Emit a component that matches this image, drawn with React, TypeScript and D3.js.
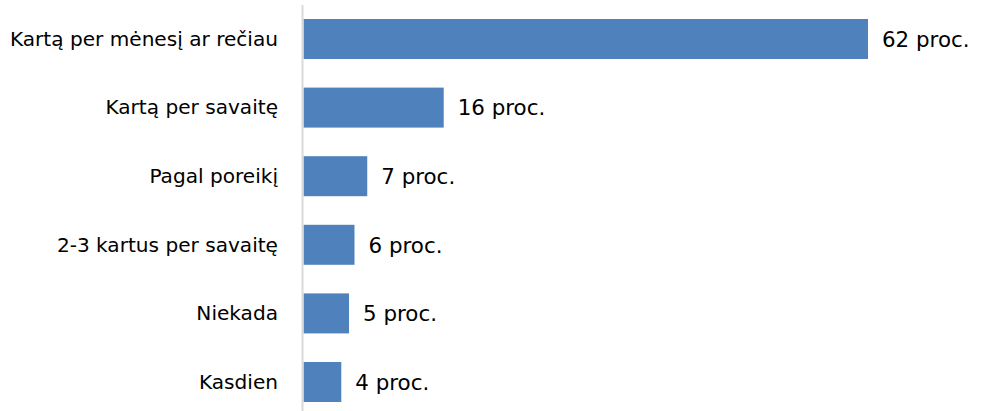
import React, { useEffect, useRef } from "react";
import * as d3 from "d3";

const categories = [
  "Kartą per mėnesį ar rečiau",
  "Kartą per savaitę",
  "Pagal poreikį",
  "2-3 kartus per savaitę",
  "Niekada",
  "Kasdien",
];
const values = [62, 15.4, 7, 5.6, 5, 4.15];
const valueLabels = ["62 proc.", "16 proc.", "7 proc.", "6 proc.", "5 proc.", "4 proc."];

const W = 983;
const H = 411;

export default function App() {
  const ref = useRef<SVGSVGElement | null>(null);
  useEffect(() => {
    const svg = d3.select(ref.current);
    svg.selectAll("*").remove();
    const x = d3.scaleLinear().domain([0, 62]).range([303.5, 868]);
    const y = d3
      .scaleBand<string>()
      .domain(categories)
      .range([4.7, 4.7 + 6 * 68.6])
      .paddingInner(0.417)
      .paddingOuter(0.2085);

    const font = "'DejaVu Sans', sans-serif";

    svg
      .selectAll("rect.bar")
      .data(categories)
      .join("rect")
      .attr("class", "bar")
      .attr("x", x(0))
      .attr("y", (d) => y(d)!)
      .attr("width", (d, i) => x(values[i]) - x(0))
      .attr("height", y.bandwidth())
      .attr("fill", "#4f81bd");

    svg
      .append("line")
      .attr("x1", 302.5)
      .attr("x2", 302.5)
      .attr("y1", 5)
      .attr("y2", H)
      .attr("stroke", "#d9d9d9")
      .attr("stroke-width", 2);

    svg
      .selectAll("text.cat")
      .data(categories)
      .join("text")
      .attr("class", "cat")
      .attr("x", 278)
      .attr("y", (d) => y(d)! + y.bandwidth() / 2)
      .attr("dy", "0.34em")
      .attr("text-anchor", "end")
      .attr("font-family", font)
      .attr("font-size", 20.1)
      .attr("fill", "#000")
      .text((d) => d);

    svg
      .selectAll("text.val")
      .data(categories)
      .join("text")
      .attr("class", "val")
      .attr("x", (d, i) => x(values[i]) + 14)
      .attr("y", (d) => y(d)! + y.bandwidth() / 2)
      .attr("dy", "0.36em")
      .attr("font-family", font)
      .attr("font-size", 21.4)
      .attr("fill", "#000")
      .text((d, i) => valueLabels[i]);
  }, []);
  return (
    <svg
      ref={ref}
      width={W}
      height={H}
      style={{ position: "absolute", left: 0, top: 0, background: "#fff" }}
    />
  );
}
